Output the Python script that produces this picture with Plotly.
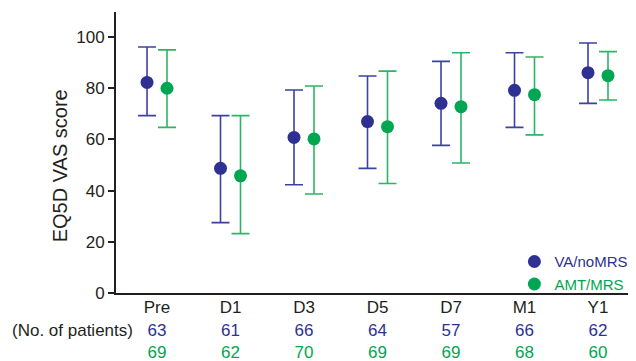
import plotly.graph_objects as go

categories = ["Pre", "D1", "D3", "D5", "D7", "M1", "Y1"]
va_mean = [82.3, 48.7, 60.8, 67.0, 74.1, 79.2, 86.1]
va_upper = [96.1, 69.3, 79.3, 84.8, 90.5, 93.9, 97.7]
va_lower = [69.3, 27.5, 42.3, 48.7, 57.7, 64.7, 74.1]
amt_mean = [80.0, 45.8, 60.2, 65.0, 72.8, 77.5, 84.9]
amt_upper = [95.0, 69.3, 80.9, 86.7, 93.9, 92.2, 94.3]
amt_lower = [64.7, 23.2, 38.7, 42.8, 50.8, 61.8, 75.4]
va_n = [63, 61, 66, 64, 57, 66, 62]
amt_n = [69, 62, 70, 69, 69, 68, 60]
y_ticks = [0, 20, 40, 60, 80, 100]

BLUE = "#2E3192"
BLUE_BAR = "#3D41A0"
GREEN = "#00A651"
GREEN_BAR = "#2DB566"
TXT = "#231F20"

idx = list(range(len(categories)))
off = 0.136

fig = go.Figure()
fig.add_trace(go.Scatter(
    x=[i - off for i in idx], y=va_mean, mode="markers",
    name=f'<span style="color:{BLUE}">VA/noMRS</span>',
    marker=dict(color=BLUE, size=13),
    error_y=dict(type="data", symmetric=False,
                 array=[u - m for u, m in zip(va_upper, va_mean)],
                 arrayminus=[m - l for m, l in zip(va_mean, va_lower)],
                 color=BLUE_BAR, thickness=1.6, width=9),
))
fig.add_trace(go.Scatter(
    x=[i + off for i in idx], y=amt_mean, mode="markers",
    name=f'<span style="color:{GREEN}">AMT/MRS</span>',
    marker=dict(color=GREEN, size=13),
    error_y=dict(type="data", symmetric=False,
                 array=[u - m for u, m in zip(amt_upper, amt_mean)],
                 arrayminus=[m - l for m, l in zip(amt_mean, amt_lower)],
                 color=GREEN_BAR, thickness=1.6, width=9),
))

ticktext = [f'{c}<br><span style="color:{BLUE}">{a}</span><br><span style="color:{GREEN}">{b}</span>'
            for c, a, b in zip(categories, va_n, amt_n)]

fig.update_layout(
    width=628, height=353,
    margin=dict(l=108, r=0, t=4, b=68),
    paper_bgcolor="white", plot_bgcolor="white",
    font=dict(family="Liberation Sans, Arial", size=17, color=TXT),
    showlegend=True,
    legend=dict(x=0.995, xanchor="right", y=0.072, yanchor="middle",
                font=dict(size=15), bgcolor="rgba(0,0,0,0)",
                itemwidth=30, tracegroupgap=0),
    xaxis=dict(range=[-0.558, 6.517], tickvals=idx, ticktext=ticktext,
               showline=True, linecolor=TXT, linewidth=2, ticks="",
               showgrid=False, zeroline=False, automargin=False,
               ticklabelstandoff=-2,
               tickfont=dict(size=17, color=TXT)),
    yaxis=dict(range=[0, 109.8], tickvals=y_ticks, showline=True, linecolor=TXT,
               linewidth=2, ticks="outside", ticklen=6, tickwidth=1.5, tickcolor=TXT,
               showgrid=False, zeroline=False, automargin=False,
               tickfont=dict(size=17, color=TXT)),
    annotations=[
        dict(text="EQ5D VAS score", xref="paper", yref="paper", x=-0.106, y=0.454,
             xanchor="center", yanchor="middle", textangle=-90, showarrow=False,
             font=dict(size=20, color=TXT)),
        dict(text="(No. of patients)", xref="paper", yref="paper", x=-0.204, y=-0.135,
             xanchor="left", yanchor="middle", showarrow=False,
             font=dict(size=17, color=TXT)),
    ],
)

fig.write_html("out.html")
